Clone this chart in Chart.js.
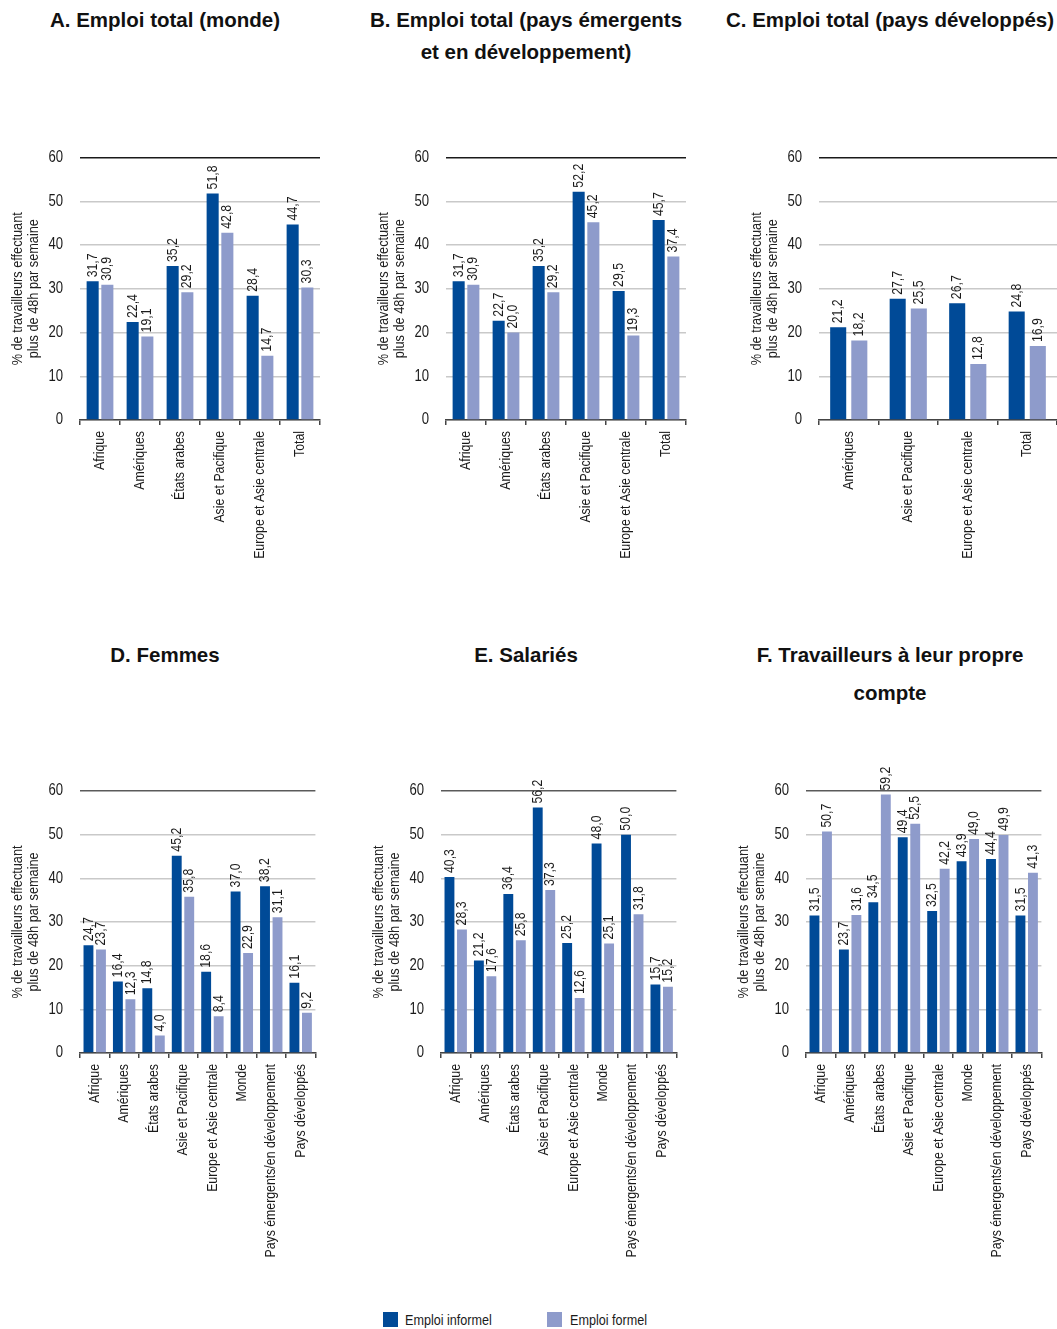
<!DOCTYPE html>
<html lang="fr">
<head>
<meta charset="utf-8">
<script src="https://cdn.jsdelivr.net/npm/chart.js@4.4.1/dist/chart.umd.min.js"></script>
<style>
  html, body { margin: 0; padding: 0; background: #fff; }
  body { width: 1057px; height: 1329px; position: relative; overflow: hidden;
         font-family: "Liberation Sans", Arial, sans-serif; color: #1a1a1a; }
  .title { position: absolute; text-align: center; font-weight: bold; font-size: 20.5px;
           line-height: 32px; white-space: nowrap; color: #111; }
  .box { position: absolute; }
  .legend { position: absolute; top: 1310px; left: 0; width: 1057px; height: 20px; font-size: 15px; }
  .sw { position: absolute; width: 15px; height: 15px; top: 2px; }
  .lt { position: absolute; top: 0; line-height: 19px; transform: scaleX(0.84); transform-origin: left center; white-space: nowrap; }
</style>
</head>
<body>

<div class="title" style="left:0;width:330px;top:4px;">A. Emploi total (monde)</div>
<div class="title" style="left:361px;width:330px;top:4px;">B. Emploi total (pays émergents<br>et en développement)</div>
<div class="title" style="left:725px;width:330px;top:4px;">C. Emploi total (pays développés)</div>
<div class="title" style="left:0;width:330px;top:639px;">D. Femmes</div>
<div class="title" style="left:361px;width:330px;top:639px;">E. Salariés</div>
<div class="title" style="left:725px;width:330px;top:636px;line-height:38px;">F. Travailleurs à leur propre<br>compte</div>

<div class="box" style="left:0px;top:130px;width:325px;height:440px;"><canvas id="cA"></canvas></div>
<div class="box" style="left:366px;top:130px;width:325px;height:440px;"><canvas id="cB"></canvas></div>
<div class="box" style="left:739px;top:130px;width:318px;height:440px;"><canvas id="cC"></canvas></div>
<div class="box" style="left:0px;top:760px;width:325px;height:508px;"><canvas id="cD"></canvas></div>
<div class="box" style="left:361px;top:760px;width:325px;height:508px;"><canvas id="cE"></canvas></div>
<div class="box" style="left:726px;top:760px;width:325px;height:508px;"><canvas id="cF"></canvas></div>

<div class="legend">
  <div class="sw" style="left:383px;background:#004A97;"></div>
  <div class="lt" style="left:405px;" id="lg1"></div>
  <div class="sw" style="left:547px;background:#8E9BCB;"></div>
  <div class="lt" style="left:570px;" id="lg2"></div>
</div>

<script>
// ---------- DATA ----------
const seriesNames = ["Emploi informel", "Emploi formel"];
const yTicks = [0, 10, 20, 30, 40, 50, 60];
const yAxisTitle = ["% de travailleurs effectuant", "plus de 48h par semaine"];

const catsRegionsTotal = ["Afrique", "Amériques", "États arabes", "Asie et Pacifique", "Europe et Asie centrale", "Total"];
const catsDeveloped = ["Amériques", "Asie et Pacifique", "Europe et Asie centrale", "Total"];
const catsGroups = ["Afrique", "Amériques", "États arabes", "Asie et Pacifique", "Europe et Asie centrale", "Monde", "Pays émergents/en développement", "Pays développés"];

const informelA = [31.7, 22.4, 35.2, 51.8, 28.4, 44.7];
const formelA   = [30.9, 19.1, 29.2, 42.8, 14.7, 30.3];

const informelB = [31.7, 22.7, 35.2, 52.2, 29.5, 45.7];
const formelB   = [30.9, 20.0, 29.2, 45.2, 19.3, 37.4];

const informelC = [21.2, 27.7, 26.7, 24.8];
const formelC   = [18.2, 25.5, 12.8, 16.9];

const informelD = [24.7, 16.4, 14.8, 45.2, 18.6, 37.0, 38.2, 16.1];
const formelD   = [23.7, 12.3, 4.0, 35.8, 8.4, 22.9, 31.1, 9.2];

const informelE = [40.3, 21.2, 36.4, 56.2, 25.2, 48.0, 50.0, 15.7];
const formelE   = [28.3, 17.6, 25.8, 37.3, 12.6, 25.1, 31.8, 15.2];

const informelF = [31.5, 23.7, 34.5, 49.4, 32.5, 43.9, 44.4, 31.5];
const formelF   = [50.7, 31.6, 59.2, 52.5, 42.2, 49.0, 49.9, 41.3];

// ---------- STYLE ----------
const FONT = '"Liberation Sans", Arial, sans-serif';
const DARK = '#004A97';
const LIGHT = '#8E9BCB';
const SX = 0.82; // condensed text rendering (narrow face look)

document.getElementById('lg1').textContent = seriesNames[0];
document.getElementById('lg2').textContent = seriesNames[1];

// Condense all text drawn on chart canvases along the text direction
const condensedText = {
  id: 'condensedText',
  beforeInit(chart) {
    const ctx = chart.ctx;
    if (ctx.__condensed) return;
    const orig = ctx.fillText;
    ctx.fillText = function (text, x, y, maxWidth) {
      this.save();
      this.translate(x, y);
      this.scale(SX, 1);
      if (maxWidth === undefined) orig.call(this, text, 0, 0);
      else orig.call(this, text, 0, 0, maxWidth / SX);
      this.restore();
    };
    ctx.__condensed = true;
  }
};

const valueLabels = {
  id: 'valueLabels',
  afterDatasetsDraw(chart) {
    const ctx = chart.ctx;
    ctx.save();
    ctx.font = '15px ' + FONT;
    ctx.fillStyle = '#1a1a1a';
    ctx.textAlign = 'left';
    ctx.textBaseline = 'middle';
    chart.data.datasets.forEach((ds, di) => {
      const meta = chart.getDatasetMeta(di);
      meta.data.forEach((el, i) => {
        const txt = ds.data[i].toFixed(1).replace('.', ',');
        ctx.save();
        ctx.translate(el.x, el.y - 4);
        ctx.rotate(-Math.PI / 2);
        ctx.fillText(txt, 0, 0);
        ctx.restore();
      });
    });
    ctx.restore();
  }
};

function makeChart(id, cats, inf, form, opts) {
  const topLineColor = opts.topLine;
  return new Chart(document.getElementById(id), {
    type: 'bar',
    data: {
      labels: cats,
      datasets: [
        { label: seriesNames[0], data: inf, backgroundColor: DARK, barPercentage: opts.barPct, categoryPercentage: opts.catPct },
        { label: seriesNames[1], data: form, backgroundColor: LIGHT, barPercentage: opts.barPct, categoryPercentage: opts.catPct }
      ]
    },
    options: {
      responsive: true,
      maintainAspectRatio: false,
      animation: false,
      layout: { padding: { top: opts.padTop, right: opts.padRight, left: 0, bottom: 0 } },
      plugins: { legend: { display: false }, tooltip: { enabled: false } },
      scales: {
        x: {
          offset: true,
          border: { display: true, color: '#444', width: 1.5 },
          grid: { offset: true, drawOnChartArea: false, drawTicks: true, tickLength: 5, color: '#444', lineWidth: 1.5 },
          ticks: { autoSkip: false, minRotation: 90, maxRotation: 90, padding: 6, color: '#1a1a1a', font: { family: FONT, size: 15 } },
          afterFit(scale) { scale.height = opts.xHeight; }
        },
        y: {
          min: 0, max: 60,
          afterBuildTicks(scale) { scale.ticks = yTicks.map(v => ({ value: v })); },
          border: { display: false },
          grid: {
            drawTicks: false,
            lineWidth: 1.5,
            color: (c) => (c.tick && c.tick.value === 60) ? topLineColor : '#c9c9c9'
          },
          ticks: { padding: 17, color: '#1a1a1a', font: { family: FONT, size: 16 } },
          title: { display: true, text: yAxisTitle, color: '#222', padding: { top: 10, bottom: 0 },
                   font: { family: FONT, size: 15.5, lineHeight: 1.03 } },
          afterFit(scale) { scale.width = 80; }
        }
      }
    },
    plugins: [condensedText, valueLabels]
  });
}

const top6 = { barPct: 0.82, catPct: 0.735, padTop: 27.5, padRight: 5, xHeight: 150, topLine: '#1a1a1a' };
const top4 = { barPct: 0.76, catPct: 0.71, padTop: 27.5, padRight: 0, xHeight: 150, topLine: '#1a1a1a' };
const bot8 = { barPct: 0.79, catPct: 0.85, padTop: 31, padRight: 5, xHeight: 215, topLine: '#5a5a5a' };

makeChart('cA', catsRegionsTotal, informelA, formelA, top6);
makeChart('cB', catsRegionsTotal, informelB, formelB, top6);
makeChart('cC', catsDeveloped, informelC, formelC, top4);
makeChart('cD', catsGroups, informelD, formelD, bot8);
makeChart('cE', catsGroups, informelE, formelE, bot8);
makeChart('cF', catsGroups, informelF, formelF, bot8);
</script>
</body>
</html>
